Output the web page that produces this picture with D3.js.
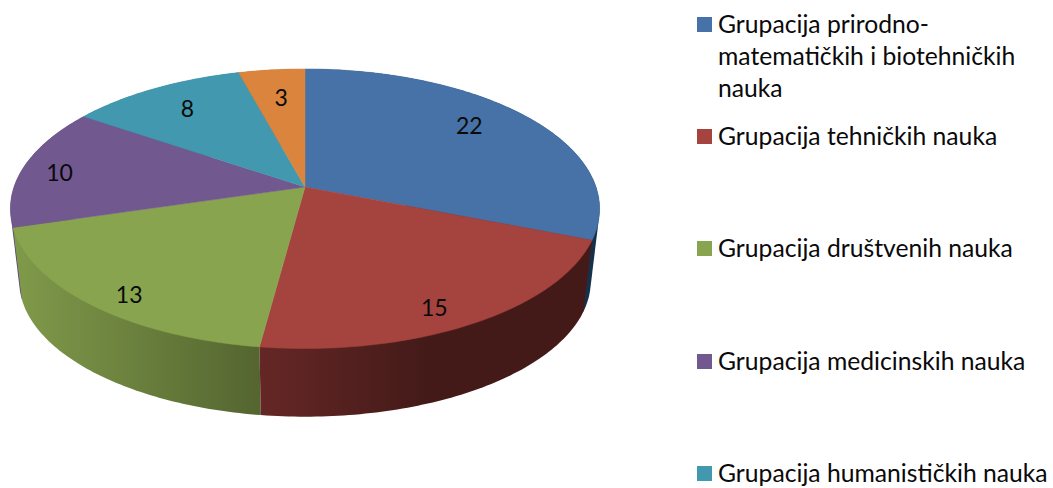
<!DOCTYPE html>
<html>
<head>
<meta charset="utf-8">
<script src="https://d3js.org/d3.v7.min.js"></script>
<style>
  body { margin: 0; background: #fff; }
  text { font-family: Lato, "Noto Sans", sans-serif; fill: #0a0a0a; }
</style>
</head>
<body>
<div id="chart"></div>
<script>
var values = [22, 15, 13, 10, 8, 3];
var legendLines = [
  ["Grupacija prirodno-", "matematičkih i biotehničkih", "nauka"],
  ["Grupacija tehničkih nauka"],
  ["Grupacija društvenih nauka"],
  ["Grupacija medicinskih nauka"],
  ["Grupacija humanističkih nauka"]
];
var topColors = ["#4672a7", "#a5433f", "#88a44e", "#71588f", "#4298af", "#db843d"];
var wallFrom = ["#1f3d5c", "#652726", "#809a4a", "#5a4672", "#327a8c", "#a8642c"];
var wallTo = ["#16304a", "#431a18", "#546530", "#5a4672", "#327a8c", "#a8642c"];

// nudges for the value labels, px
var labelNudge = [[-26, -1], [-12, 8], [3, 10], [-6, 3], [12, 7], [5, 12]];
var legendBaselines = [[33, 65, 97], [145], [257], [370], [482]];
// walls are painted back to front
var wallOrder = [5, 4, 3, 0, 2, 1];

var width = 1053, height = 488;
var cx = 305, cy = 187;

var svg = d3.select("#chart").append("svg")
  .attr("width", width)
  .attr("height", height);

// perspective disc: rim point for an angle clockwise from 12 o'clock
var rx = 291, ry = 136.4, persp = 0.1556;
function project(angle, r, shrink, drop) {
  var u = r * Math.sin(angle), v = -r * Math.cos(angle);
  var w = 1 - persp * v;
  return [cx + shrink * rx * u / w, cy + drop + shrink * ry * v / w];
}

var pie = d3.pie().sort(null).value(function(d) { return d; });
var arcs = pie(values);

function rim(a0, a1, shrink, drop) {
  var n = Math.max(2, Math.ceil(Math.abs(a1 - a0) * 60));
  return d3.range(n + 1).map(function(i) {
    return project(a0 + (a1 - a0) * i / n, 1, shrink, drop);
  });
}

var line = d3.line();
var defs = svg.append("defs");

// side walls first, the top covers whatever is at the back
var shrink = 0.97, drop = 73;
wallOrder.forEach(function(i) {
  var d = arcs[i];
  var pts = d3.polygonHull(rim(d.startAngle, d.endAngle, 1, 0)
    .concat(rim(d.startAngle, d.endAngle, shrink, drop)));
  var xs = pts.map(function(p) { return p[0]; });
  var grad = defs.append("linearGradient")
    .attr("id", "wall" + i)
    .attr("gradientUnits", "userSpaceOnUse")
    .attr("x1", d3.min(xs))
    .attr("x2", i === 1 ? d3.min(xs) + 170 : d3.max(xs))
    .attr("y1", 0).attr("y2", 0);
  grad.append("stop").attr("offset", 0).attr("stop-color", wallFrom[i]);
  grad.append("stop").attr("offset", 1).attr("stop-color", wallTo[i]);
  svg.append("path")
    .attr("d", line(pts) + "Z")
    .attr("fill", "url(#wall" + i + ")");
});

// top face
arcs.forEach(function(d, i) {
  var pts = [[cx, cy]].concat(rim(d.startAngle, d.endAngle, 1, 0));
  svg.append("path")
    .attr("d", line(pts) + "Z")
    .attr("fill", topColors[i])
    .attr("stroke", topColors[i])
    .attr("stroke-width", 0.5);
});

// value labels
arcs.forEach(function(d, i) {
  var p = project((d.startAngle + d.endAngle) / 2, 0.85, 1, 0);
  svg.append("text")
    .attr("x", p[0] + labelNudge[i][0])
    .attr("y", p[1] + labelNudge[i][1])
    .attr("dy", "0.36em")
    .attr("text-anchor", "middle")
    .style("font-size", "23px")
    .text(d.data);
});

// legend
legendLines.forEach(function(lines, i) {
  var base = legendBaselines[i];
  svg.append("rect")
    .attr("x", 697)
    .attr("y", base[0] - 16)
    .attr("width", 15)
    .attr("height", 15)
    .attr("fill", topColors[i]);
  lines.forEach(function(t, j) {
    svg.append("text")
      .attr("x", 718)
      .attr("y", base[j])
      .style("font-size", "24.7px")
      .text(t);
  });
});
</script>
</body>
</html>
